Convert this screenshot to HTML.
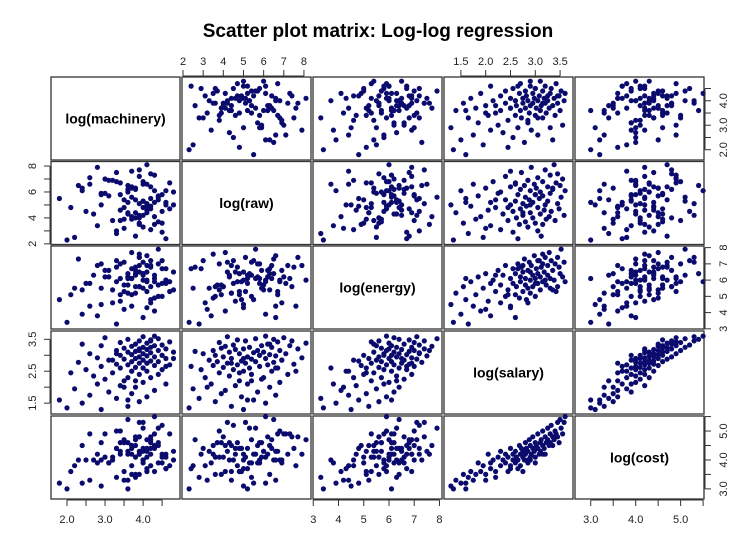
<!DOCTYPE html>
<html><head><meta charset="utf-8"><style>
body{margin:0;background:#fff}
svg{display:block;font-family:"Liberation Sans",sans-serif}
</style></head><body>
<svg id="chart" width="756" height="551" viewBox="0 0 756 551">
<text x="378" y="37" text-anchor="middle" font-size="19" font-weight="bold">Scatter plot matrix: Log-log regression</text>
</svg>
<script>
const varNames = ["log(machinery)","log(raw)","log(energy)","log(salary)","log(cost)"];
const salary = [1.3,1.35,1.4,1.5,1.55,1.6,1.65,1.7,1.75,1.8,1.85,1.9,1.95,2.0,2.05,2.1,2.1,2.15,2.2,2.25,2.3,2.3,2.35,2.4,2.4,2.45,2.5,2.5,2.55,2.55,2.6,2.6,2.62,2.65,2.68,2.7,2.7,2.72,2.75,2.75,2.78,2.8,2.8,2.82,2.85,2.85,2.88,2.9,2.9,2.92,2.95,2.95,2.98,3.0,3.0,3.02,3.05,3.05,3.08,3.1,3.1,3.12,3.15,3.15,3.18,3.2,3.2,3.22,3.25,3.25,3.28,3.3,3.3,3.32,3.35,3.38,3.4,3.42,3.45,3.48,3.5,3.52,3.55,3.58,3.6,2.0,2.2,2.45,2.65,2.85,3.0,3.15,3.35,2.75,2.5,2.9,3.05,2.6,1.6,3.45];
const cost = [3.1,3.0,3.3,3.2,3.5,3.2,3.4,3.6,3.3,3.5,3.9,3.6,3.8,3.5,4.2,3.7,3.9,4.0,3.6,4.1,3.8,4.3,4.0,3.9,4.2,4.1,3.7,4.4,4.0,4.2,4.3,3.9,4.1,4.0,4.5,4.2,3.8,4.4,4.1,4.3,4.0,4.6,4.2,4.4,3.9,4.3,4.7,4.1,4.5,4.2,4.4,4.8,4.3,4.6,4.1,4.5,4.4,4.9,4.2,4.6,4.3,4.7,4.5,5.0,4.4,4.8,4.2,4.6,4.7,5.1,4.5,4.9,4.6,5.2,4.8,4.7,5.0,4.9,5.3,4.6,5.4,5.1,4.9,5.3,5.5,3.3,3.4,3.6,3.7,4.0,3.9,4.2,4.5,3.6,3.8,4.0,4.4,4.0,3.0,4.8];
const energy = [4.5,3.4,5.2,3.9,5.6,4.8,3.3,5.9,4.4,5.1,6.2,4.1,5.5,6.4,4.7,5.8,3.8,6.0,5.3,6.6,4.6,5.7,6.3,5.0,6.9,5.4,4.3,6.1,5.8,6.7,5.1,6.4,5.6,7.0,4.9,6.2,5.9,6.8,5.3,6.5,7.3,5.7,6.1,4.8,6.6,5.5,7.1,6.0,5.2,6.9,6.3,5.6,7.5,6.1,5.0,6.7,6.4,5.8,7.2,6.2,5.4,6.8,7.0,5.9,6.5,7.4,6.0,5.7,6.9,6.3,7.7,6.1,5.5,7.2,6.6,6.0,7.0,5.3,7.4,6.8,6.4,7.9,6.2,7.1,5.9,4.2,6.3,5.1,6.7,4.6,5.8,7.6,5.4,6.9,4.4,6.5,7.2,3.7,6.1,5.6];
const machinery = [2.9,2.0,3.6,2.4,3.9,1.8,3.3,4.1,2.6,3.7,3.1,4.3,2.2,3.8,3.4,4.6,2.8,4.0,3.5,3.0,4.2,3.6,2.7,4.4,3.9,3.2,4.1,3.7,2.5,4.5,3.4,4.0,3.8,2.9,4.3,3.6,4.7,3.3,4.1,3.9,2.3,4.4,3.7,4.2,3.1,4.0,3.5,4.6,3.8,2.8,4.3,3.9,4.1,3.4,4.5,3.7,4.0,2.6,4.2,3.6,4.8,3.8,4.4,3.3,4.1,3.9,4.6,3.5,4.2,4.0,3.7,4.3,2.9,4.5,3.8,4.1,3.4,4.7,3.9,4.2,3.6,4.4,3.0,4.0,4.3,3.5,3.8,2.1,4.6,3.2,4.5,3.9,2.4,4.1,3.7,4.8,3.3,4.0,3.6,4.2];
const raw = [5.0,2.3,4.4,6.1,3.6,5.5,2.8,4.9,6.6,3.9,5.7,4.1,2.5,6.3,4.6,5.2,3.4,6.8,4.8,5.9,3.1,6.0,4.3,5.4,7.2,3.8,5.0,6.4,4.5,2.9,6.7,5.3,4.0,5.8,3.5,6.2,4.7,7.5,5.1,4.2,6.5,3.7,5.6,4.9,6.9,3.3,5.4,6.1,4.4,7.9,5.2,4.0,6.6,5.8,3.6,6.3,4.8,7.1,5.5,4.3,6.0,2.6,5.7,6.8,4.6,7.7,5.0,3.9,6.4,5.3,4.1,7.3,5.9,4.5,6.2,8.1,3.8,6.7,5.1,4.7,6.5,5.6,7.0,4.2,6.1,3.2,5.4,4.8,2.4,6.9,5.8,3.5,6.3,4.4,7.6,5.0,3.0,6.6,5.2,7.4];
const machTicks = [2.0,2.5,3.0,3.5,4.0,4.5];
const machLabels = ["2.0","","3.0","","4.0",""];
const rawTicks = [2,3,4,5,6,7,8];
const rawLabelsX = ["2","3","4","5","6","7","8"];
const rawLabelsY = ["2","","4","","6","","8"];
const energyTicks = [3,4,5,6,7,8];
const energyLabels = ["3","4","5","6","7","8"];
const salaryTicks = [1.5,2.0,2.5,3.0,3.5];
const salaryLabelsX = ["1.5","2.0","2.5","3.0","3.5"];
const salaryLabelsY = ["1.5","","2.5","","3.5"];
const costTicks = [3.0,3.5,4.0,4.5,5.0,5.5];
const costLabels = ["3.0","","4.0","","5.0",""];

const NS="http://www.w3.org/2000/svg";
const svg=document.getElementById('chart');
const series=[machinery,raw,energy,salary,cost];
const ranges=[[1.58,4.97],[1.95,8.35],[2.99,8.1],[1.16,3.76],[2.65,5.52]];
const colX=[51,182,313,444,575], rowY=[77,161.5,246,331,416], PW=129, PH=83;
function sx(v,j){const r=ranges[j];return colX[j]+(v-r[0])/(r[1]-r[0])*PW;}
function sy(v,i){const r=ranges[i];return rowY[i]+PH-(v-r[0])/(r[1]-r[0])*PH;}
function mk(tag,attrs){const e=document.createElementNS(NS,tag);for(const k in attrs)e.setAttribute(k,attrs[k]);svg.appendChild(e);return e;}
for(let i=0;i<5;i++){for(let j=0;j<5;j++){
  const r=mk('rect',{x:colX[j],y:rowY[i],width:PW,height:PH,fill:'none',stroke:'#333','stroke-width':1.3});
  
  
  if(i===j){
    const t=mk('text',{x:colX[j]+PW/2,y:rowY[i]+PH/2+5,'text-anchor':'middle','font-size':14,'font-weight':'bold'});
    t.textContent=varNames[i];
    
    
  } else {
    const xs=series[j], ys=series[i];
    for(let k=0;k<xs.length;k++){
      const c=mk('circle',{cx:sx(xs[k],j).toFixed(1),cy:sy(ys[k],i).toFixed(1),r:2.6,fill:'#0b0b6e'});
      
      
    }
  }
}}
const tickSets=[[machTicks,machLabels,machLabels],[rawTicks,rawLabelsX,rawLabelsY],[energyTicks,energyLabels,energyLabels],[salaryTicks,salaryLabelsX,salaryLabelsY],[costTicks,costLabels,costLabels]];
function axis(j,side){
  const [ticks,lx,ly]=tickSets[j];
  const g=document.createElementNS(NS,'g');svg.appendChild(g);
  
  
  const add=(tag,a)=>{const e=document.createElementNS(NS,tag);for(const k in a)e.setAttribute(k,a[k]);g.appendChild(e);return e;};
  const horiz=(side==='top'||side==='bottom');
  const p=ticks.map(v=>horiz?sx(v,j):sy(v,j));
  let base,dir;
  if(side==='top'){base=rowY[0]-1;dir=-1;}
  if(side==='bottom'){base=rowY[4]+PH+1;dir=1;}
  if(side==='left'){base=colX[0]-1;dir=-1;}
  if(side==='right'){base=colX[4]+PW+1;dir=1;}
  const a=Math.min(...p),b=Math.max(...p);
  if(horiz) add('line',{x1:a,x2:b,y1:base,y2:base,stroke:'#333'}); else add('line',{y1:a,y2:b,x1:base,x2:base,stroke:'#333'});
  p.forEach((q,k)=>{
    if(horiz){add('line',{x1:q,x2:q,y1:base,y2:base+dir*6,stroke:'#333'});}
    else{add('line',{y1:q,y2:q,x1:base,x2:base+dir*6,stroke:'#333'});}
    const lab=horiz?lx[k]:ly[k];
    if(lab){
      let t;
      if(horiz){const ty=side==='top'?base-11:base+23;t=add('text',{x:q,y:ty,'text-anchor':'middle','font-size':11,fill:'#222'});}
      else{const tx=side==='left'?base-14:base+22;t=add('text',{x:tx,y:q,'text-anchor':'middle','font-size':11,fill:'#222',transform:'rotate(-90 '+tx+' '+q+')'});}
      t.textContent=lab;
    }
  });
}
axis(1,'top');axis(3,'top');
axis(0,'bottom');axis(2,'bottom');axis(4,'bottom');
axis(1,'left');axis(3,'left');
axis(0,'right');axis(2,'right');axis(4,'right');
</script>
</body></html>
